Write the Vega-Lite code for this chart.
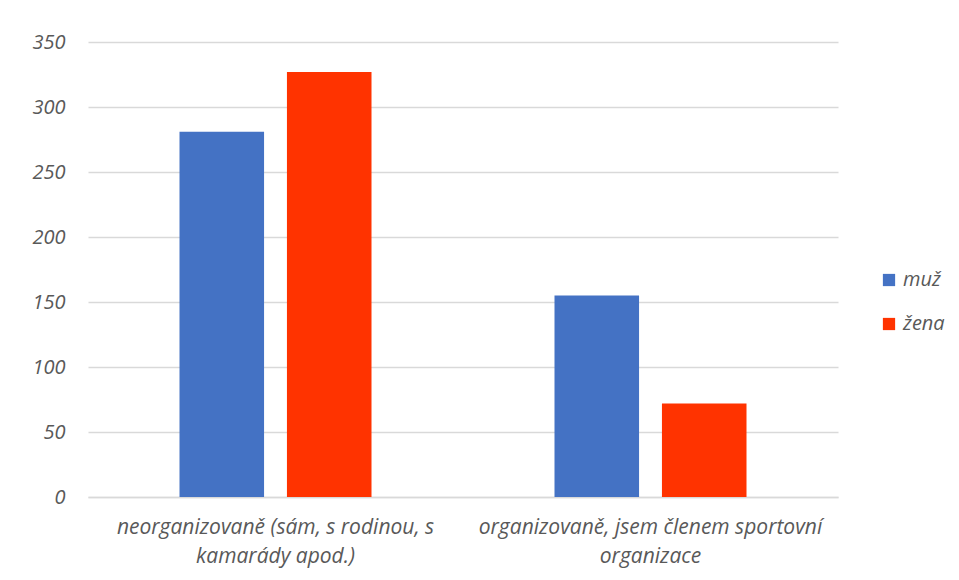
{
  "$schema": "https://vega.github.io/schema/vega-lite/v6.json",
  "width": 750,
  "height": 455,
  "autosize": {"type": "none"},
  "padding": {"left": 88, "top": 42, "right": 121, "bottom": 83},
  "background": "white",
  "data": {
    "values": [
      {"kategorie": "neorganizovaně (sám, s rodinou, s kamarády apod.)", "pohlavi": "muž", "pocet": 281},
      {"kategorie": "neorganizovaně (sám, s rodinou, s kamarády apod.)", "pohlavi": "žena", "pocet": 327},
      {"kategorie": "organizovaně, jsem členem sportovní organizace", "pohlavi": "muž", "pocet": 155},
      {"kategorie": "organizovaně, jsem členem sportovní organizace", "pohlavi": "žena", "pocet": 72}
    ]
  },
  "config": {
    "view": {"stroke": null},
    "font": "Open Sans"
  },
  "mark": {"type": "bar"},
  "encoding": {
    "x": {
      "field": "kategorie",
      "type": "nominal",
      "sort": null,
      "scale": {"paddingInner": 0.488, "paddingOuter": 0.244},
      "axis": {
        "title": null,
        "labelAngle": 0,
        "ticks": false,
        "domain": true,
        "domainColor": "#d9d9d9",
        "domainWidth": 1.5,
        "labelFont": "Open Sans",
        "labelFontStyle": "italic",
        "labelFontSize": 21,
        "labelColor": "#595959",
        "labelLineHeight": 29,
        "labelPadding": 19,
        "labelBaseline": "top",
        "labelLimit": 400,
        "labelExpr": "datum.value == 'neorganizovaně (sám, s rodinou, s kamarády apod.)' ? ['neorganizovaně (sám, s rodinou, s', 'kamarády apod.)'] : ['organizovaně, jsem členem sportovní', 'organizace']"
      }
    },
    "xOffset": {
      "field": "pohlavi",
      "type": "nominal",
      "scale": {"paddingInner": 0.213, "paddingOuter": 0}
    },
    "y": {
      "field": "pocet",
      "type": "quantitative",
      "scale": {"domain": [0, 350], "nice": false},
      "axis": {
        "title": null,
        "values": [0, 50, 100, 150, 200, 250, 300, 350],
        "domain": false,
        "ticks": false,
        "grid": true,
        "gridColor": "#d9d9d9",
        "gridWidth": 1.5,
        "labelFont": "Open Sans",
        "labelFontStyle": "italic",
        "labelFontSize": 20,
        "labelColor": "#595959",
        "labelPadding": 23
      }
    },
    "color": {
      "field": "pohlavi",
      "type": "nominal",
      "scale": {"domain": ["muž", "žena"], "range": ["#4472C4", "#FF3300"]},
      "legend": {
        "title": null,
        "orient": "none",
        "legendX": 791,
        "legendY": 228,
        "symbolType": "square",
        "symbolSize": 150,
        "symbolStrokeWidth": 0,
        "symbolOpacity": 1,
        "rowPadding": 24,
        "labelFont": "Open Sans",
        "labelFontStyle": "italic",
        "labelFontSize": 20,
        "labelColor": "#595959",
        "labelOffset": 4
      }
    }
  }
}
